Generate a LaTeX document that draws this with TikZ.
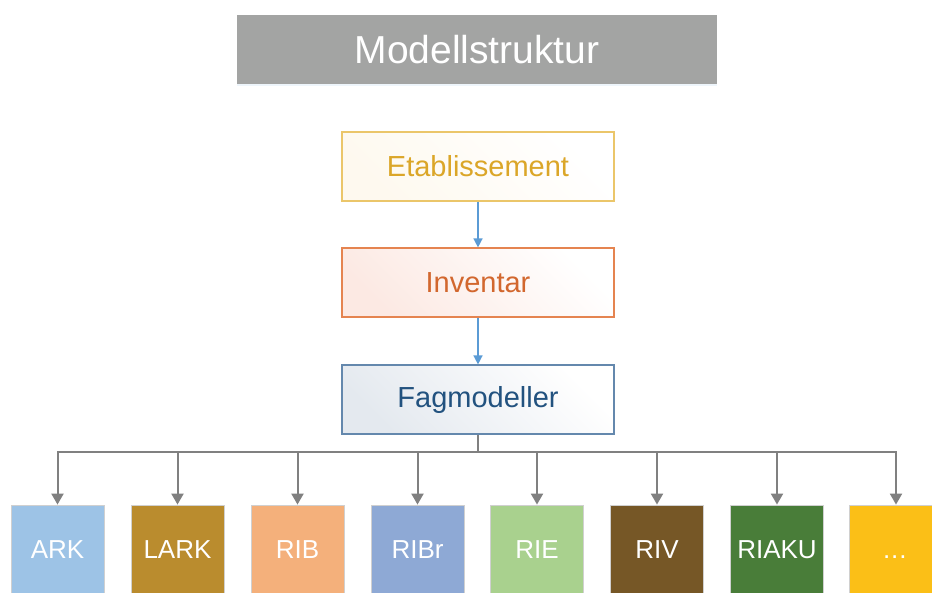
\documentclass[tikz,border=0pt]{standalone}
\usepackage{fontspec}
\setmainfont{Liberation Sans}
\usetikzlibrary{arrows.meta,shadows}
\definecolor{titlegray}{HTML}{A3A4A3}
\definecolor{etabborder}{HTML}{EBC66A}
\definecolor{etabtext}{HTML}{DBA628}
\definecolor{etabfill}{HTML}{FEF9EF}
\definecolor{invborder}{HTML}{E58450}
\definecolor{invtext}{HTML}{D2672E}
\definecolor{invfill}{HTML}{FCE9E3}
\definecolor{fagborder}{HTML}{6488AD}
\definecolor{fagtext}{HTML}{22527F}
\definecolor{fagfill}{HTML}{E4E9EF}
\definecolor{bluearrow}{HTML}{5B9BD5}
\definecolor{grayline}{HTML}{808080}
\definecolor{boxedge}{HTML}{D0D0D0}
\definecolor{cARK}{HTML}{9DC3E6}
\definecolor{cLARK}{HTML}{BA8C2E}
\definecolor{cRIB}{HTML}{F4B07B}
\definecolor{cRIBr}{HTML}{8EA9D5}
\definecolor{cRIE}{HTML}{A9D18E}
\definecolor{cRIV}{HTML}{765726}
\definecolor{cRIAKU}{HTML}{497D39}
\definecolor{cDots}{HTML}{FBBF17}
\begin{document}
\begin{tikzpicture}[x=1pt,y=-1pt,
  titlebox/.style={fill=titlegray, text=white, minimum width=480pt, minimum height=69pt,
    inner sep=0pt, font=\fontsize{39}{42}\selectfont,
    drop shadow={opacity=0.25, shadow xshift=0pt, shadow yshift=-2pt, fill=bluearrow!40}},
  levelbox/.style={draw=#1border, line width=1.2pt, minimum width=272pt, minimum height=69pt,
    inner sep=0pt, text=#1text, font=\fontsize{29}{32}\selectfont,
    shading=axis, left color=#1fill, right color=white, shading angle=135},
  disc/.style={fill=#1, draw=boxedge, line width=0.8pt, minimum width=93pt, minimum height=90pt,
    inner sep=0pt, text=white, font=\fontsize{26}{28}\selectfont},
  bluearr/.style={draw=bluearrow, line width=1.5pt, -{Triangle[width=9pt,length=9pt]}},
  grayconn/.style={draw=grayline, line width=2pt},
  grayarr/.style={draw=grayline, line width=2pt, -{Triangle[width=12pt,length=11pt]}}
]
\useasboundingbox (0,0) rectangle (932,592);
\clip (0,0) rectangle (932,592);

\node[titlebox] (title) at (477,49.5) {Modellstruktur};

\node[levelbox=etab] (etab) at (478,166.5) {Etablissement};
\node[levelbox=inv] (inv) at (478,282.5) {Inventar};
\node[levelbox=fag] (fag) at (478,399.5) {Fagmodeller};

\draw[bluearr] (etab.south) -- (inv.north);
\draw[bluearr] (inv.south) -- (fag.north);

\node[disc=cARK] (ark) at (57.5,550) {ARK};
\node[disc=cLARK] (lark) at (177.5,550) {LARK};
\node[disc=cRIB] (rib) at (297.5,550) {RIB};
\node[disc=cRIBr] (ribr) at (417.5,550) {RIBr};
\node[disc=cRIE] (rie) at (537,550) {RIE};
\node[disc=cRIV] (riv) at (657,550) {RIV};
\node[disc=cRIAKU] (riaku) at (777,550) {RIAKU};
\node[disc=cDots, anchor=center] (dots) at (896,550) {\phantom{A}\llap{\raisebox{0pt}{.\kern1pt.\kern1pt.}\kern-2pt}};

\coordinate (bus) at (478,452);
\draw[grayconn] (fag.south) -- (bus);
\draw[grayconn, line cap=rect] (bus -| ark.north) -- (bus -| dots.north);
\foreach \n in {ark,lark,rib,ribr,rie,riv,riaku,dots}{
  \draw[grayarr] (bus -| \n.north) -- (\n.north);
}
\end{tikzpicture}
\end{document}
